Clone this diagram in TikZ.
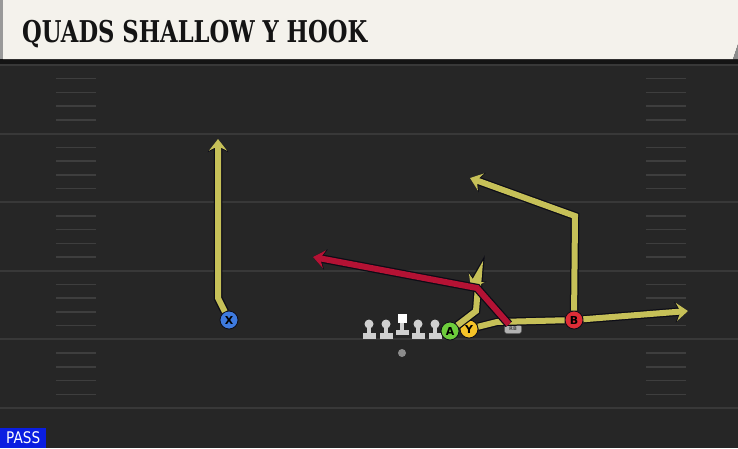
\documentclass[tikz,border=0pt]{standalone}
\usepackage{fontspec}
\setmainfont{DejaVu Sans}
\newfontfamily\titlefont{DejaVu Serif}
\usetikzlibrary{arrows.meta}
\definecolor{turf}{HTML}{262626}
\definecolor{yardline}{HTML}{383838}
\definecolor{hashmark}{HTML}{3E3E3E}
\definecolor{banner}{HTML}{F4F2EC}
\definecolor{routeyellow}{RGB}{198,192,88}
\definecolor{routered}{RGB}{180,18,52}
\definecolor{outline}{HTML}{0C0C16}
\definecolor{xblue}{RGB}{62,122,222}
\definecolor{agreen}{RGB}{110,205,60}
\definecolor{yyellow}{RGB}{245,195,40}
\definecolor{bred}{RGB}{222,45,55}
\definecolor{linegray}{HTML}{D0D0D0}
\definecolor{passblue}{RGB}{10,30,225}
\tikzset{
    player/.style={
           circle,
           draw=outline, line width=0.8pt,
           minimum size=18pt,
           inner sep=0pt,
           font=\bfseries\fontsize{11}{11}\selectfont,
           text=black
           },
    route/.style={
           draw=routeyellow, line width=6pt,
           -{Stealth[length=8pt 0.6, width=12pt 1, inset=2.5pt 0.3]},
           preaction={draw=outline, line width=8.5pt}
           },
    hotroute/.style={route, draw=routered},
    rbtag/.style={
           rectangle, rounded corners=2.5pt,
           fill=black!30, draw=black!65, line width=0.5pt,
           minimum width=17pt, minimum height=9pt, inner sep=0pt,
           font=\bfseries\fontsize{5}{5}\selectfont, text=black!70
           },
    qbdot/.style={circle, fill=black!45, minimum size=8pt, inner sep=0pt},
}

\begin{document}
\begin{tikzpicture}[x=1pt,y=-1pt]
    \useasboundingbox (0,0) rectangle (738,448);

    % field
    \fill[turf] (0,0) rectangle (738,448);
    \foreach \k in {0,...,5}
        \draw[yardline, line width=2pt] (0,{65+68.6*\k}) -- (738,{65+68.6*\k});
    \foreach \k in {0,...,4}
        \foreach \j in {1,...,4}{
            \draw[hashmark, line width=1.5pt] (56,{65+68.6*\k+13.72*\j}) -- (96,{65+68.6*\k+13.72*\j});
            \draw[hashmark, line width=1.5pt] (646,{65+68.6*\k+13.72*\j}) -- (686,{65+68.6*\k+13.72*\j});
        }

    % header
    \fill[black!92] (0,59) rectangle (738,64);
    \fill[black!40] (0,0) rectangle (3,59);
    \fill[banner] (3,0) -- (738,0) -- (738,44) -- (733,59) -- (3,59) -- cycle;
    \fill[black!45] (738,44) -- (738,59) -- (733,59) -- cycle;
    \node[anchor=base west, inner sep=0pt, text=black!92,
          font=\titlefont\bfseries\fontsize{30}{30}\selectfont] (TITLE) at (22,42)
        {\scalebox{0.755}[1]{QUADS SHALLOW Y HOOK}};

    % line
    \foreach \x in {369,386,418,435}{
        \fill[linegray] (\x,324) circle (4.5);
        \fill[linegray] (\x-2.2,324) rectangle (\x+2.2,334);
        \fill[linegray] (\x-6.5,333) rectangle (\x+6.5,339);
    }
    \fill[white] (397.5,314) rectangle (406.5,323);
    \fill[linegray] (400,323) rectangle (404,331);
    \fill[linegray] (395.5,330) rectangle (408.5,335);

    % players
    \node[qbdot] (QB) at (402,353) {};
    \node[player, fill=xblue] (X) at (229,320) {X};
    \node[player, fill=agreen] (A) at (450,331) {A};
    \node[player, fill=yyellow] (Y) at (469,329) {Y};
    \node[rbtag] (RB) at (513,329) {RB};
    \node[player, fill=bred] (B) at (574,320) {B};

    % route breaks
    \coordinate (x1) at (218,298);
    \coordinate (x2) at (218,139);
    \coordinate (h1) at (476,311);
    \coordinate (h2) at (479,274);
    \coordinate (h3) at (471,288);
    \coordinate (f1) at (497,322);
    \coordinate (f2) at (688,311);
    \coordinate (b1) at (575,216);
    \coordinate (b2) at (470,178);
    \coordinate (r1) at (477,288);
    \coordinate (r2) at (313,257);

    % routes
    \draw[route] (X) -- (x1) -- (x2);
    \draw[route] (B) -- (b1) -- (b2);
    \draw[route] (Y) -- (f1) -- (B) -- (f2);
    \draw[route] (A) -- (h1) -- (h2) -- (h3);
    \draw[hotroute] (RB) -- (r1) -- (r2);

    % tag
    \node[anchor=south west, fill=passblue, minimum width=46pt, minimum height=20pt,
          inner sep=0pt, text=white, font=\fontsize{16}{16}\selectfont] (PASS) at (0,448)
        {\scalebox{0.85}[1]{PASS}};
\end{tikzpicture}
\end{document}
